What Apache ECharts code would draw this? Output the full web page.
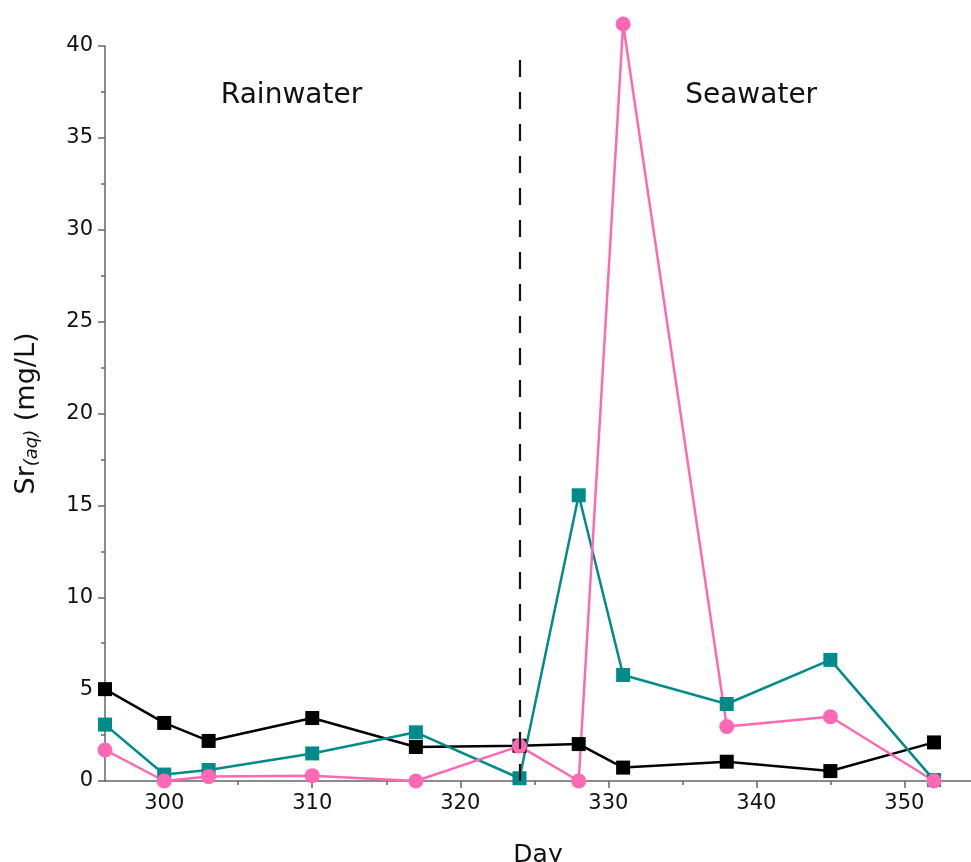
<!DOCTYPE html>
<html>
<head>
<meta charset="utf-8">
<script src="https://cdn.jsdelivr.net/npm/echarts@6/dist/echarts.min.js"></script>
<style>html,body{margin:0;padding:0;background:#fff}#c{width:971px;height:862px}</style>
</head>
<body>
<div id="c"></div>
<script>
const days = [296, 300, 303, 310, 317, 324, 328, 331, 338, 345, 352];
const blackVals = [5.0, 3.16, 2.18, 3.43, 1.85, 1.92, 2.01, 0.73, 1.05, 0.54, 2.1];
const tealVals = [3.07, 0.35, 0.6, 1.5, 2.65, 0.15, 15.55, 5.77, 4.19, 6.59, 0.05];
const pinkVals = [1.69, 0.0, 0.24, 0.29, 0.0, 1.9, 0.0, 41.2, 2.96, 3.5, 0.0];
const majorXTicks = [300, 310, 320, 330, 340, 350];
const minorXTicks = [300, 305, 310, 315, 320, 325, 330, 335, 340, 345, 350];
const dividerDay = 324;
const annotations = [{ text: 'Rainwater', day: 308.6, y: 37.3 }, { text: 'Seawater', day: 339.65, y: 37.3 }];

const FONT = 'DejaVu Sans';
const AX = '#666';
const pairs = v => days.map((d, i) => [d, v[i]]);

const chart = echarts.init(document.getElementById('c'), null, { renderer: 'canvas' });
chart.setOption({
  backgroundColor: '#fff',
  animation: false,
  grid: { left: 105, right: 0, top: 46, bottom: 81, containLabel: false, outerBoundsMode: 'none' },
  xAxis: [{
    type: 'value', min: 296, max: 354.5,
    name: 'Day', nameLocation: 'middle', nameGap: 62,
    nameTextStyle: { fontFamily: FONT, fontSize: 25, color: '#111' },
    axisLine: { show: true, lineStyle: { color: AX, width: 1.5 } },
    axisTick: { show: true, inside: false, length: 4, customValues: minorXTicks, lineStyle: { color: AX, width: 1.5 } },
    axisLabel: { show: true, customValues: majorXTicks, fontFamily: FONT, fontSize: 21, color: '#111', margin: 12 },
    splitLine: { show: false }
  }, {
    type: 'value', min: 296, max: 354.5, position: 'bottom',
    axisLine: { show: false },
    axisTick: { show: true, inside: false, length: 7, customValues: majorXTicks, lineStyle: { color: AX, width: 1.5 } },
    axisLabel: { show: false },
    splitLine: { show: false }
  }],
  yAxis: {
    type: 'value', min: 0, max: 40, interval: 5,
    name: '{a|Sr}{b|(aq)}{a| (mg/L)}', nameLocation: 'middle', nameGap: 64, nameRotate: 90,
    nameTextStyle: {
      rich: {
        a: { fontFamily: FONT, fontSize: 27, color: '#111' },
        b: { fontFamily: FONT, fontSize: 18, fontStyle: 'italic', color: '#111', padding: [10, 0, 0, 0] }
      }
    },
    axisLine: { show: true, lineStyle: { color: AX, width: 1.5 } },
    axisTick: { show: true, inside: false, length: 7, lineStyle: { color: AX, width: 1.5 } },
    minorTick: { show: true, splitNumber: 2, length: 4, lineStyle: { color: AX, width: 1.5 } },
    axisLabel: { fontFamily: FONT, fontSize: 21, color: '#111', margin: 12 },
    splitLine: { show: false }
  },
  series: [{
    type: 'line', data: pairs(blackVals), clip: false,
    symbol: 'rect', symbolSize: 14,
    lineStyle: { color: '#000', width: 2.5 }, itemStyle: { color: '#000' },
    markLine: {
      silent: true, symbol: 'none', label: { show: false },
      lineStyle: { color: '#111', width: 2.2, type: [17, 15] },
      data: [[{ coord: [dividerDay, 0] }, { coord: [dividerDay, 39.24] }]]
    },
    markPoint: {
      symbol: 'circle', symbolSize: 0,
      label: { show: true, position: 'inside', fontFamily: FONT, fontSize: 28, color: '#111', formatter: p => p.name },
      data: annotations.map(a => ({ name: a.text, coord: [a.day, a.y] }))
    }
  }, {
    type: 'line', data: pairs(tealVals), clip: false,
    symbol: 'rect', symbolSize: 14,
    lineStyle: { color: '#008b8b', width: 2.5 }, itemStyle: { color: '#008b8b' }
  }, {
    type: 'line', data: pairs(pinkVals), clip: false,
    symbol: 'circle', symbolSize: 15,
    lineStyle: { color: '#ff69b4', width: 2.5 }, itemStyle: { color: '#ff69b4' }
  }]
});
</script>
</body>
</html>
